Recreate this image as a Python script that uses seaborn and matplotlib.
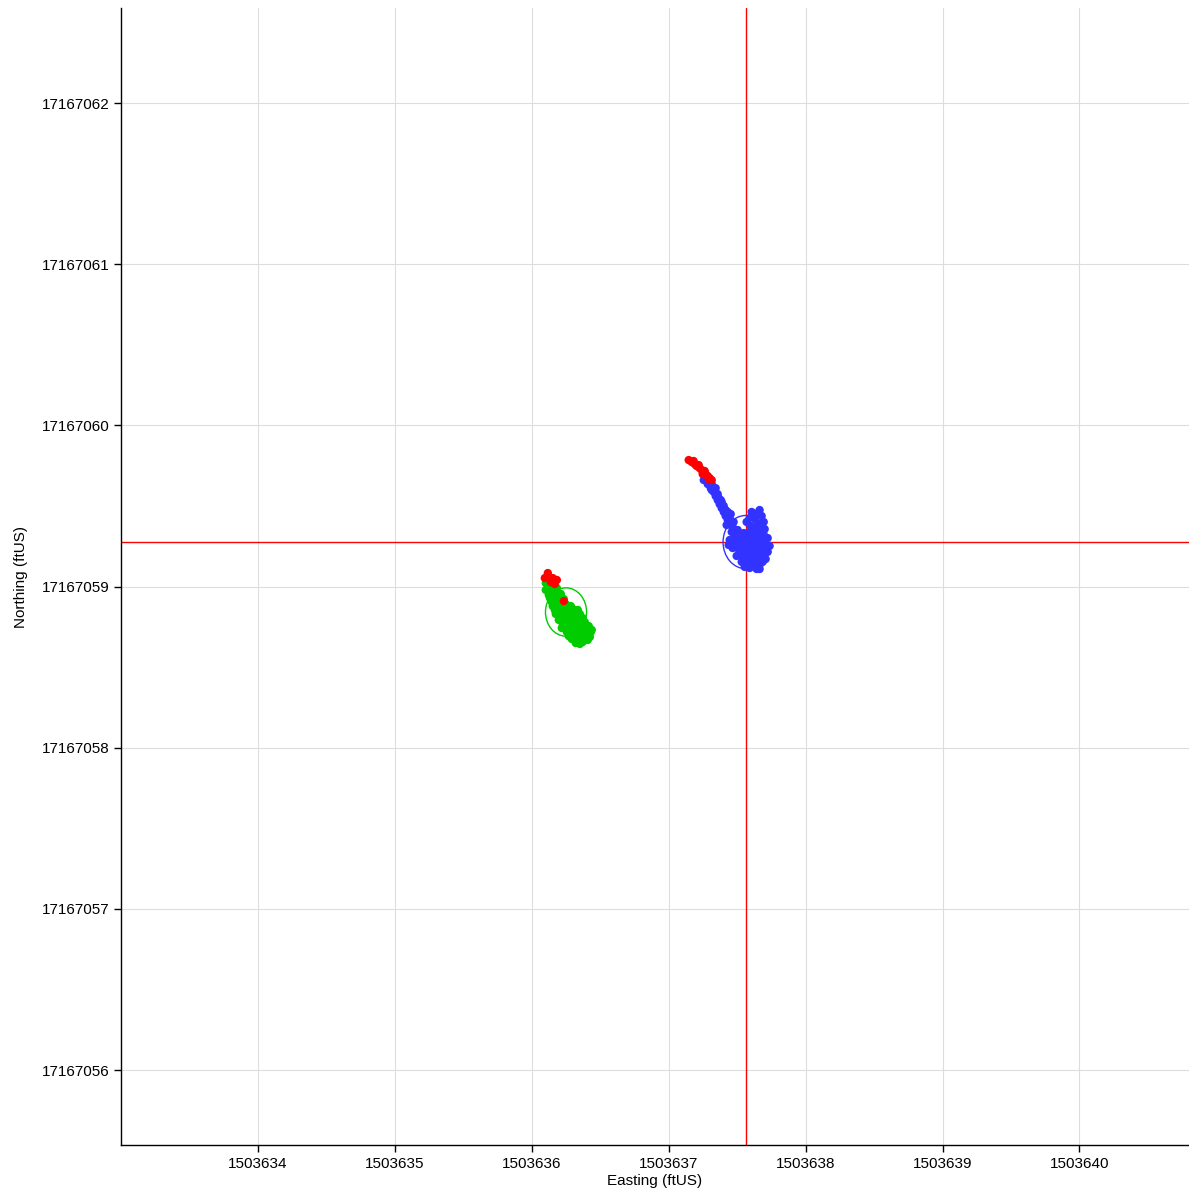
import matplotlib
matplotlib.use("Agg")
import matplotlib.pyplot as plt
from matplotlib.patches import Circle
import seaborn as sns
import pandas as pd

# Control point (crosshair)
control_e = 1503637.562
control_n = 17167059.276

# Rover positions, point A (blue fixes, red outliers)
a_easting = [
    1503637.256, 1503637.285, 1503637.307, 1503637.329, 1503637.343, 1503637.358,
    1503637.372, 1503637.387, 1503637.402, 1503637.416, 1503637.431, 1503637.453,
    1503637.314, 1503637.358, 1503637.380, 1503637.394, 1503637.416, 1503637.445,
    1503637.474,
    1503637.285, 1503637.314, 1503637.343, 1503637.365, 1503637.387, 1503637.402,
    1503637.431, 1503637.453, 1503637.467, 1503637.423,
    1503637.606, 1503637.650, 1503637.679, 1503637.591, 1503637.635, 1503637.694,
    1503637.599, 1503637.650, 1503637.701,
    1503637.628, 1503637.664, 1503637.569, 1503637.672, 1503637.621, 1503637.679,
    1503637.460, 1503637.504, 1503637.548, 1503637.591, 1503637.642, 1503637.686,
    1503637.723,
    1503637.482, 1503637.526, 1503637.569, 1503637.613, 1503637.657, 1503637.701,
    1503637.445, 1503637.489, 1503637.533, 1503637.577, 1503637.621, 1503637.664,
    1503637.708, 1503637.737,
    1503637.438, 1503637.482, 1503637.526, 1503637.569, 1503637.613, 1503637.657,
    1503637.701,
    1503637.467, 1503637.511, 1503637.555, 1503637.599, 1503637.642, 1503637.686,
    1503637.723,
    1503637.518, 1503637.562, 1503637.606, 1503637.650, 1503637.694,
    1503637.496, 1503637.540, 1503637.584, 1503637.628, 1503637.672, 1503637.708,
    1503637.555, 1503637.599, 1503637.642, 1503637.686,
    1503637.533, 1503637.577, 1503637.621, 1503637.664, 1503637.591, 1503637.642,
    1503637.613, 1503637.555, 1503637.664,
]
a_northing = [
    17167059.661, 17167059.636, 17167059.611, 17167059.587, 17167059.562, 17167059.537,
    17167059.512, 17167059.487, 17167059.463, 17167059.438, 17167059.413, 17167059.388,
    17167059.636, 17167059.574, 17167059.537, 17167059.506, 17167059.475, 17167059.425,
    17167059.401,
    17167059.661, 17167059.599, 17167059.611, 17167059.549, 17167059.525, 17167059.500,
    17167059.463, 17167059.450, 17167059.370, 17167059.382,
    17167059.463, 17167059.456, 17167059.438, 17167059.425, 17167059.413, 17167059.401,
    17167059.376, 17167059.370, 17167059.357,
    17167059.444, 17167059.475, 17167059.401, 17167059.388, 17167059.363, 17167059.339,
    17167059.339, 17167059.351, 17167059.332, 17167059.339, 17167059.326, 17167059.320,
    17167059.301,
    17167059.314, 17167059.308, 17167059.314, 17167059.301, 17167059.295, 17167059.289,
    17167059.289, 17167059.283, 17167059.289, 17167059.277, 17167059.283, 17167059.270,
    17167059.264, 17167059.252,
    17167059.258, 17167059.258, 17167059.258, 17167059.252, 17167059.258, 17167059.246,
    17167059.239,
    17167059.239, 17167059.233, 17167059.227, 17167059.233, 17167059.221, 17167059.227,
    17167059.215,
    17167059.208, 17167059.208, 17167059.208, 17167059.202, 17167059.196,
    17167059.190, 17167059.184, 17167059.190, 17167059.177, 17167059.184, 17167059.171,
    17167059.165, 17167059.159, 17167059.159, 17167059.153,
    17167059.153, 17167059.140, 17167059.146, 17167059.134, 17167059.115, 17167059.109,
    17167059.128, 17167059.122, 17167059.109,
]
a_out_easting = [
    1503637.146, 1503637.168, 1503637.190, 1503637.204, 1503637.226, 1503637.241,
    1503637.255, 1503637.270, 1503637.285, 1503637.299, 1503637.314, 1503637.219,
    1503637.263, 1503637.292, 1503637.182, 1503637.248,
]
a_out_northing = [
    17167059.785, 17167059.773, 17167059.760, 17167059.748, 17167059.735, 17167059.723,
    17167059.710, 17167059.698, 17167059.686, 17167059.673, 17167059.661, 17167059.754,
    17167059.717, 17167059.667, 17167059.779, 17167059.698,
]

# Rover positions, point B (green fixes, red outliers)
b_easting = [
    1503636.110, 1503636.146, 1503636.183, 1503636.102, 1503636.139, 1503636.175,
    1503636.212, 1503636.124, 1503636.161, 1503636.117, 1503636.102,
    1503636.124, 1503636.161, 1503636.197, 1503636.234,
    1503636.132, 1503636.168, 1503636.205, 1503636.248, 1503636.285,
    1503636.146, 1503636.183, 1503636.219, 1503636.256, 1503636.299, 1503636.336,
    1503636.153, 1503636.190, 1503636.226, 1503636.270, 1503636.314, 1503636.351,
    1503636.168, 1503636.205, 1503636.241, 1503636.285, 1503636.329, 1503636.372,
    1503636.175, 1503636.212, 1503636.256, 1503636.299, 1503636.343, 1503636.387,
    1503636.197, 1503636.241, 1503636.285, 1503636.329, 1503636.372, 1503636.416,
    1503636.226, 1503636.270, 1503636.314, 1503636.358, 1503636.402,
    1503636.219, 1503636.263, 1503636.307, 1503636.351, 1503636.394, 1503636.438,
    1503636.256, 1503636.299, 1503636.343, 1503636.387, 1503636.431,
    1503636.270, 1503636.314, 1503636.358, 1503636.402,
    1503636.292, 1503636.336, 1503636.380, 1503636.424, 1503636.351,
    1503636.321, 1503636.372, 1503636.409,
]
b_northing = [
    17167059.041, 17167059.003, 17167058.991, 17167058.979, 17167058.960, 17167058.966,
    17167058.954, 17167059.016, 17167058.985, 17167058.991, 17167059.022,
    17167058.948, 17167058.941, 17167058.929, 17167058.923,
    17167058.929, 17167058.917, 17167058.898, 17167058.892, 17167058.879,
    17167058.904, 17167058.892, 17167058.873, 17167058.867, 17167058.861, 17167058.855,
    17167058.879, 17167058.861, 17167058.848, 17167058.842, 17167058.836, 17167058.830,
    17167058.855, 17167058.836, 17167058.824, 17167058.817, 17167058.811, 17167058.805,
    17167058.830, 17167058.811, 17167058.799, 17167058.793, 17167058.786, 17167058.780,
    17167058.793, 17167058.780, 17167058.774, 17167058.768, 17167058.762, 17167058.755,
    17167058.768, 17167058.755, 17167058.749, 17167058.743, 17167058.737,
    17167058.743, 17167058.737, 17167058.731, 17167058.731, 17167058.724, 17167058.731,
    17167058.718, 17167058.706, 17167058.712, 17167058.700, 17167058.718,
    17167058.693, 17167058.687, 17167058.687, 17167058.706,
    17167058.675, 17167058.669, 17167058.681, 17167058.687, 17167058.644,
    17167058.650, 17167058.656, 17167058.669,
]
b_out_easting = [1503636.117, 1503636.095, 1503636.139, 1503636.168, 1503636.183,
                 1503636.153, 1503636.234]
b_out_northing = [17167059.084, 17167059.053, 17167059.028, 17167059.016, 17167059.041,
                  17167059.053, 17167058.910]

# Error circles around each point
circle_e = [1503637.562, 1503636.250]
circle_n = [17167059.276, 17167058.842]
circle_r = [0.165, 0.15]

x_ticks = [1503634, 1503635, 1503636, 1503637, 1503638, 1503639, 1503640]
y_ticks = [17167056, 17167057, 17167058, 17167059, 17167060, 17167061, 17167062]

sns.set_theme(style="white")
plt.rcParams["font.family"] = ["Liberation Sans", "DejaVu Sans"]

frames = [
    pd.DataFrame({"E": a_easting, "N": a_northing, "grp": "A"}),
    pd.DataFrame({"E": b_easting, "N": b_northing, "grp": "B"}),
    pd.DataFrame({"E": a_out_easting + b_out_easting,
                  "N": a_out_northing + b_out_northing, "grp": "out"}),
]
df = pd.concat(frames, ignore_index=True)
palette = {"A": "#3333ff", "B": "#00cc00", "out": "#ff0000"}

fig = plt.figure(figsize=(11.89, 11.91), dpi=100)
ax = fig.add_axes([0.1018, 0.0386, 0.8982, 0.9547])

ax.axvline(control_e, color="#ff0000", lw=1.0, zorder=1)
ax.axhline(control_n, color="#ff0000", lw=1.0, zorder=1)

sns.scatterplot(data=df, x="E", y="N", hue="grp", palette=palette, s=36,
                linewidth=0, legend=False, ax=ax, zorder=3)

for ce, cn, cr, col in zip(circle_e, circle_n, circle_r, ["#3333ff", "#00cc00"]):
    ax.add_patch(Circle((ce, cn), cr, fill=False, edgecolor=col, lw=1.0, zorder=2))

ax.set_xlim(1503633.0, 1503640.8)
ax.set_ylim(17167055.535, 17167062.59)
ax.set_xticks(x_ticks)
ax.set_yticks(y_ticks)
ax.ticklabel_format(useOffset=False, style="plain")
ax.grid(True, color="#dddddd", lw=0.8, zorder=0)
ax.set_axisbelow(True)

for side in ["top", "right"]:
    ax.spines[side].set_visible(False)
for side in ["left", "bottom"]:
    ax.spines[side].set_color("black")
    ax.spines[side].set_linewidth(1.0)

ax.tick_params(axis="both", which="both", direction="out", length=5, width=1,
               color="black", labelsize=11, labelcolor="black",
               bottom=True, left=True)
ax.set_xlabel("Easting (ftUS)", fontsize=11, color="black", labelpad=2)
ax.set_ylabel("Northing (ftUS)", fontsize=11, color="black", labelpad=10)

fig.savefig("out.png", dpi=100)
